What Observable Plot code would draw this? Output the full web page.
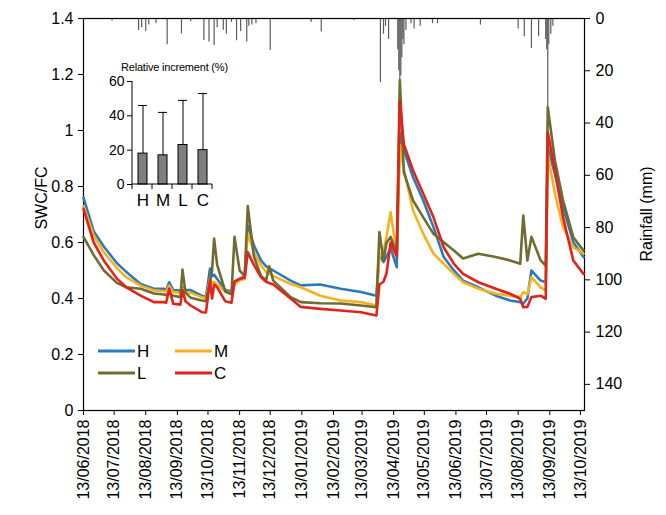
<!DOCTYPE html>
<html>
<head>
<meta charset="utf-8">
<script src="https://cdn.jsdelivr.net/npm/d3@7"></script>
<script src="https://cdn.jsdelivr.net/npm/@observablehq/plot@0.6"></script>
<style>
  body { margin: 0; background: #fff; font-family: "Liberation Sans", Arial, sans-serif; }
  #chart { position: relative; width: 666px; height: 515px; }
  #chart svg { position: absolute; left: 0; top: 0; }
</style>
</head>
<body>
<div id="chart"></div>
<script>
// Soil water content relative to field capacity (SWC/FC) for the four treatments
const dates = ["2018-06-13","2018-06-23","2018-07-03","2018-07-16","2018-07-25","2018-08-08","2018-08-21","2018-08-31","2018-09-02","2018-09-05","2018-09-09","2018-09-16","2018-09-18","2018-09-21","2018-09-26","2018-10-07","2018-10-11","2018-10-15","2018-10-17","2018-10-19","2018-10-22","2018-10-30","2018-11-05","2018-11-08","2018-11-13","2018-11-18","2018-11-21","2018-11-27","2018-12-04","2018-12-09","2018-12-12","2018-12-16","2019-01-02","2019-01-12","2019-01-31","2019-02-20","2019-03-12","2019-03-27","2019-03-30","2019-04-03","2019-04-06","2019-04-10","2019-04-16","2019-04-19","2019-04-23","2019-05-02","2019-05-12","2019-05-22","2019-06-01","2019-06-11","2019-06-20","2019-07-05","2019-07-22","2019-08-05","2019-08-15","2019-08-18","2019-08-22","2019-08-26","2019-09-04","2019-09-09","2019-09-11","2019-09-18","2019-09-26","2019-10-06","2019-10-16"];
const swcH = [0.76,0.64,0.585,0.525,0.495,0.452,0.435,0.435,0.43,0.458,0.43,0.428,0.44,0.43,0.43,0.41,0.405,0.507,0.48,0.485,0.47,0.43,0.425,0.46,0.47,0.48,0.66,0.59,0.536,0.515,0.507,0.50,0.464,0.447,0.45,0.435,0.423,0.41,0.56,0.53,0.55,0.58,0.512,0.99,0.93,0.833,0.75,0.655,0.548,0.50,0.464,0.44,0.41,0.393,0.387,0.382,0.40,0.50,0.464,0.458,0.94,0.845,0.726,0.601,0.548];
const swcM = [0.73,0.625,0.565,0.507,0.476,0.446,0.429,0.426,0.425,0.446,0.423,0.42,0.435,0.422,0.42,0.405,0.40,0.47,0.455,0.46,0.45,0.425,0.42,0.45,0.465,0.47,0.635,0.565,0.518,0.495,0.49,0.48,0.452,0.44,0.41,0.393,0.387,0.375,0.55,0.57,0.62,0.708,0.56,0.95,0.86,0.714,0.631,0.56,0.524,0.488,0.458,0.435,0.417,0.41,0.405,0.423,0.415,0.476,0.44,0.429,0.917,0.774,0.655,0.583,0.56];
const swcL = [0.62,0.555,0.50,0.455,0.44,0.435,0.418,0.414,0.412,0.418,0.41,0.405,0.503,0.42,0.403,0.393,0.39,0.46,0.50,0.614,0.52,0.425,0.415,0.62,0.50,0.48,0.73,0.55,0.48,0.465,0.515,0.464,0.405,0.387,0.383,0.382,0.375,0.369,0.637,0.536,0.60,0.62,0.56,1.18,0.85,0.75,0.69,0.631,0.601,0.571,0.543,0.56,0.548,0.536,0.524,0.696,0.536,0.62,0.536,0.518,1.083,0.893,0.75,0.619,0.571];
const swcC = [0.72,0.60,0.535,0.47,0.44,0.41,0.387,0.387,0.385,0.435,0.381,0.378,0.43,0.39,0.375,0.351,0.35,0.464,0.40,0.45,0.44,0.39,0.385,0.46,0.47,0.475,0.565,0.52,0.476,0.46,0.455,0.45,0.40,0.37,0.363,0.357,0.351,0.339,0.45,0.46,0.49,0.60,0.55,1.107,0.95,0.857,0.774,0.69,0.583,0.524,0.488,0.458,0.435,0.417,0.399,0.369,0.37,0.405,0.41,0.399,0.994,0.857,0.69,0.536,0.488];

// Daily rainfall (mm)
const rainDates = ["2018-07-11","2018-08-06","2018-08-09","2018-08-13","2018-08-16","2018-08-23","2018-09-03","2018-09-17","2018-09-26","2018-10-09","2018-10-14","2018-10-19","2018-10-22","2018-10-28","2018-10-31","2018-11-05","2018-11-10","2018-11-14","2018-11-20","2018-11-22","2018-11-25","2018-11-29","2018-12-13","2019-01-22","2019-02-01","2019-03-05","2019-03-31","2019-04-03","2019-04-05","2019-04-08","2019-04-17","2019-04-18","2019-04-19","2019-04-20","2019-04-21","2019-04-22","2019-04-23","2019-04-25","2019-04-30","2019-05-03","2019-05-09","2019-05-21","2019-05-26","2019-07-07","2019-08-13","2019-08-19","2019-08-26","2019-09-02","2019-09-09","2019-09-10","2019-09-11","2019-09-12","2019-09-14","2019-09-16"];
const rainMm = [1,4.6,3.5,5,2.5,2,10,5.9,1.2,8.4,9,10.3,3.5,4.5,6,1.5,8.5,5,9,3,2.5,2,12.2,1.5,5.2,0.8,24.5,6,3,8,12,20,28,22,15,8,10,4.6,2,4,3,2,2,2.5,4,7,11.5,7,8,12,35,10,6,3];

// Inset: relative increment (%) by treatment, mean and standard deviation
const insetCats = ["H", "M", "L", "C"];
const insetMean = [18, 17, 23, 20];
const insetSd = [28, 25, 26, 33];

const seriesNames = ["H", "M", "L", "C"];
const seriesColors = ["#2b7bba", "#f7b11e", "#6e6c30", "#e2231a"];
const xTickLabels = ["13/06/2018","13/07/2018","13/08/2018","13/09/2018","13/10/2018","13/11/2018","13/12/2018","13/01/2019","13/02/2019","13/03/2019","13/04/2019","13/05/2019","13/06/2019","13/07/2019","13/08/2019","13/09/2019","13/10/2019"];
const swcTicks = [0, 0.2, 0.4, 0.6, 0.8, 1.0, 1.2, 1.4];
const rainTicks = [0, 20, 40, 60, 80, 100, 120, 140];
const insetTicks = [0, 20, 40, 60];

const parseTick = d3.utcParse("%d/%m/%Y");
const seriesValues = [swcH, swcM, swcL, swcC];
const swcRows = seriesNames.flatMap((name, i) =>
  dates.map((d, j) => ({series: name, date: new Date(d), value: seriesValues[i][j]})));
const rainRows = rainDates.map((d, i) => ({date: new Date(d), mm: rainMm[i]}));
const insetRows = insetCats.map((c, i) => ({cat: c, mean: insetMean[i], sd: insetSd[i]}));

const W = 666, H = 515;
const margins = {marginTop: 18, marginRight: 82, marginBottom: 105, marginLeft: 83};
const xDomain = [new Date("2018-06-13"), new Date("2019-10-17")];
const font = '"Liberation Sans", Arial, sans-serif';
const baseStyle = {fontFamily: font, fontSize: "16px", color: "#000", background: "transparent", overflow: "visible"};
const chart = document.getElementById("chart");

// Rainfall bars hanging from the top, with the right-hand axis
const rainPlot = Plot.plot({
  width: W, height: H, ...margins, style: baseStyle,
  x: {type: "utc", domain: xDomain, axis: null},
  y: {domain: [0, 150], reverse: true, axis: "right", ticks: rainTicks, tickSize: 5, tickPadding: 6, label: null},
  marks: [
    Plot.ruleX(rainRows, {x: "date", y1: 0, y2: "mm", stroke: "#5f5a5a", strokeWidth: 1.2})
  ]
});
chart.append(rainPlot);

// SWC/FC lines with left and bottom axes
const swcPlot = Plot.plot({
  width: W, height: H, ...margins, style: baseStyle,
  x: {type: "utc", domain: xDomain, ticks: xTickLabels.map(parseTick), tickFormat: d3.utcFormat("%d/%m/%Y"),
      tickRotate: -90, tickSize: 5, tickPadding: 4, label: null},
  y: {domain: [0, 1.4], ticks: swcTicks, tickFormat: d => String(+d.toFixed(1)), tickSize: 5, tickPadding: 5, label: null},
  color: {domain: seriesNames, range: seriesColors},
  marks: [
    Plot.frame({stroke: "#000", strokeWidth: 1.2}),
    Plot.line(swcRows, {x: "date", y: "value", z: "series", stroke: "series", strokeWidth: 2.6, curve: "linear"})
  ]
});
chart.append(swcPlot);

const svg = d3.select(swcPlot);
svg.append("text")
  .attr("transform", "translate(47,198) rotate(-90)")
  .attr("text-anchor", "middle").attr("font-size", 16).attr("font-family", font).attr("fill", "#000")
  .text("SWC/FC");
svg.append("text")
  .attr("transform", "translate(652,214) rotate(-90)")
  .attr("text-anchor", "middle").attr("font-size", 16).attr("font-family", font).attr("fill", "#000")
  .text("Rainfall (mm)");

// Legend, two columns
const legendPos = [[98, 351], [175, 351], [98, 373], [175, 373]];
seriesNames.forEach((name, i) => {
  const [lx, ly] = legendPos[i];
  svg.append("line").attr("x1", lx).attr("x2", lx + 37).attr("y1", ly).attr("y2", ly)
    .attr("stroke", seriesColors[i]).attr("stroke-width", 3);
  svg.append("text").attr("x", lx + 39).attr("y", ly + 6).attr("text-anchor", "start")
    .attr("font-size", 17).attr("font-family", font).attr("fill", "#000").text(name);
});

// Inset bar chart with upper error bars
const inset = Plot.plot({
  width: 130, height: 165,
  marginLeft: 32, marginRight: 18, marginTop: 26, marginBottom: 36,
  style: {...baseStyle, fontSize: "14px"},
  x: {domain: insetCats, paddingInner: 0.55, paddingOuter: 0.275, tickSize: 0, tickPadding: 9, label: null},
  y: {domain: [0, 60], ticks: insetTicks, tickSize: 5, tickPadding: 3, label: null},
  marks: [
    Plot.barY(insetRows, {x: "cat", y: "mean", fill: "#7f7f7f", stroke: "#000", strokeWidth: 1}),
    Plot.ruleX(insetRows, {x: "cat", y1: "mean", y2: d => d.mean + d.sd, stroke: "#000", strokeWidth: 1}),
    Plot.tickY(insetRows, {x: "cat", y: d => d.mean + d.sd, stroke: "#000", strokeWidth: 1})
  ]
});
inset.style.left = "100px";
inset.style.top = "55px";
chart.append(inset);

const isvg = d3.select(inset);
isvg.selectAll('[aria-label="x-axis tick label"] text').attr("font-size", 17);
const sx = inset.scale("x"), sy = inset.scale("y");
const x0 = sx.range[0], x1 = sx.range[1];
const yBase = sy.apply(0), yTop = sy.apply(60);
isvg.append("line").attr("x1", x0).attr("x2", x0).attr("y1", yBase).attr("y2", yTop).attr("stroke", "#000");
isvg.append("line").attr("x1", x0).attr("x2", x1).attr("y1", yBase).attr("y2", yBase).attr("stroke", "#000");
for (let i = 0; i <= insetCats.length; i++) {
  const bx = x0 + i * sx.step;
  isvg.append("line").attr("x1", bx).attr("x2", bx).attr("y1", yBase).attr("y2", yBase + 5).attr("stroke", "#000");
}
isvg.append("text").attr("x", 21).attr("y", 15.5).attr("text-anchor", "start")
  .attr("font-size", 11).attr("font-family", font).attr("fill", "#000").attr("letter-spacing", -0.2)
  .text("Relative increment (%)");
</script>
</body>
</html>
